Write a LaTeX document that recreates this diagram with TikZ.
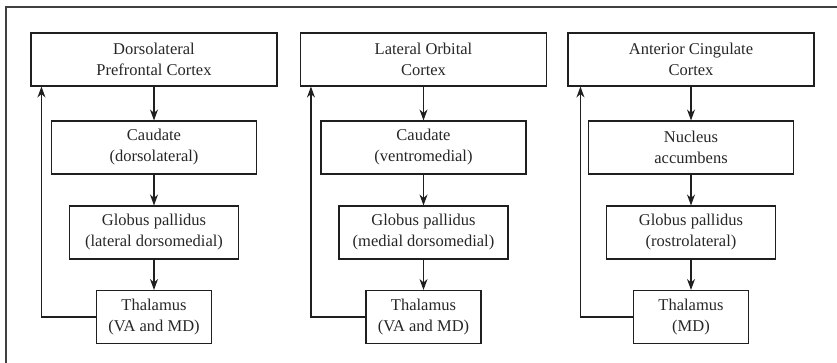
\documentclass[tikz,border=0pt]{standalone}
\usepackage{fontspec}
\setmainfont{Liberation Serif}
\usetikzlibrary{arrows.meta}
\begin{document}
\begin{tikzpicture}[x=1pt,y=-1pt,
  ln/.style={draw=black!88,line width=1.1pt},
  bx/.style={ln,rectangle,minimum height=53pt,inner sep=0pt,align=center,
    font=\fontsize{16.5}{21}\selectfont,text=black!85},
  wA/.style={bx,minimum width=246pt},
  wB/.style={bx,minimum width=205pt},
  wC/.style={bx,minimum width=169pt},
  wD/.style={bx,minimum width=115pt},
  arr/.style={ln,-{Stealth[length=11pt,width=8pt]}}]
\useasboundingbox (0,0) rectangle (837,363);
\draw[draw=black!75,line width=1.2pt] (6,363) -- (6,7) -- (837,7);
% column 1
\node[wA] (a1) at (154,59.5) {Dorsolateral\\Prefrontal Cortex};
\node[wB] (b1) at (154,147.5) {Caudate\\(dorsolateral)};
\node[wC] (c1) at (154,232.5) {Globus pallidus\\(lateral dorsomedial)};
\node[wD] (d1) at (154,317) {Thalamus\\(VA and MD)};
% column 2
\node[wA] (a2) at (423.5,59.5) {Lateral Orbital\\Cortex};
\node[wB] (b2) at (423.5,147.5) {Caudate\\(ventromedial)};
\node[wC] (c2) at (423.5,232.5) {Globus pallidus\\(medial dorsomedial)};
\node[wD] (d2) at (423.5,317) {Thalamus\\(VA and MD)};
% column 3
\node[wA] (a3) at (691,59.5) {Anterior Cingulate\\Cortex};
\node[wB] (b3) at (691,147.5) {Nucleus\\accumbens};
\node[wC] (c3) at (691,232.5) {Globus pallidus\\(rostrolateral)};
\node[wD] (d3) at (691,317) {Thalamus\\(MD)};
\foreach \i/\off in {1/11,2/11,3/13}{
  \draw[arr] (a\i) -- (b\i);
  \draw[arr] (b\i) -- (c\i);
  \draw[arr] (c\i) -- (d\i);
  \draw[arr] (d\i.west) -| ([xshift=\off pt]a\i.south west);
}
\end{tikzpicture}
\end{document}
